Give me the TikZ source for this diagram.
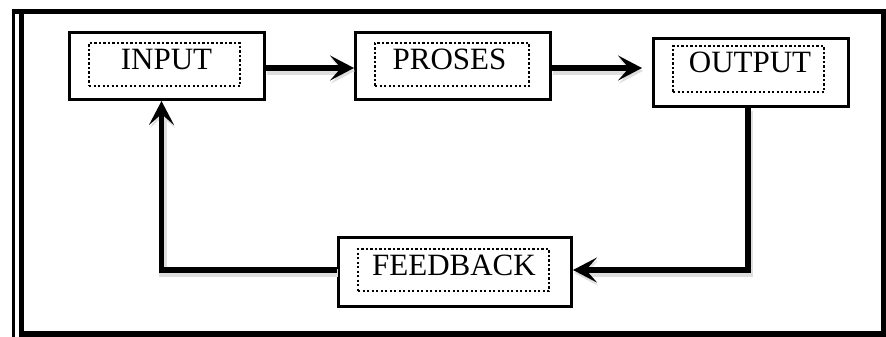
\documentclass[tikz,border=0pt]{standalone}
\usepackage{fontspec}
\setmainfont{Liberation Serif}
\usetikzlibrary{arrows.meta}

\begin{document}
\begin{tikzpicture}[x=1pt,y=-1pt,
  outerbox/.style={draw=black, line width=3pt, fill=white, inner sep=0pt},
  dotbox/.style={draw=black, line width=2.6pt, dash pattern=on 2.3pt off 2.2pt, inner sep=0pt},
  lbl/.style={inner sep=0pt, font=\fontsize{31}{36}\selectfont},
  conn/.style={line width=5.5pt, -{Stealth[length=24pt, width=25pt, inset=11pt]},
    preaction={draw=black!13, line width=8pt, transform canvas={shift={(1pt,-3pt)}}}}
]
\useasboundingbox (0,0) rectangle (886,337);

% frame with the doubled left edge
\draw[line width=5.5pt] (21.5,11.5) rectangle (883.5,334);
\draw[line width=3.5pt] (13.5,9) -- (13.5,337);
\draw[line width=5pt] (12,11.5) -- (21.5,11.5);

% INPUT
\node[outerbox, minimum width=195, minimum height=67] (inp) at (167,66) {};
\node[dotbox, minimum width=151, minimum height=43] (inpd) at (164.5,64.5) {};
\node[lbl] (inpt) at (166.5,60) {INPUT};

% PROSES
\node[outerbox, minimum width=195, minimum height=67] (pro) at (453,66) {};
\node[dotbox, minimum width=154, minimum height=43] (prod) at (452,64.5) {};
\node[lbl] (prot) at (449.5,59.5) {PROSES};

% OUTPUT
\node[outerbox, minimum width=195, minimum height=68] (out) at (751,72.5) {};
\node[dotbox, minimum width=151, minimum height=46] (outd) at (748.5,69) {};
\node[lbl] (outt) at (750,62.5) {OUTPUT};

% FEEDBACK
\node[outerbox, minimum width=233, minimum height=69] (fb) at (455,272) {};
\node[dotbox, minimum width=191, minimum height=42] (fbd) at (453.5,270) {};
\node[lbl] (fbt) at (454,265) {FEEDBACK};

% bends of the feedback loop
\coordinate (oc) at (748,270);
\coordinate (ic) at (161.5,270);

% connectors
\draw[conn] ([yshift=-2pt]inp.east) -- ([yshift=-2pt]pro.west);
\draw[conn, shorten >=10pt] ([yshift=-2pt]pro.east) -- ([yshift=4.5pt]out.west);
\draw[conn] ([xshift=-3pt]out.south) -- (oc) -- (oc -| fb.east);
\draw[conn] (fb.west |- ic) -- (ic) -- (ic |- inp.south);
\end{tikzpicture}
\end{document}
